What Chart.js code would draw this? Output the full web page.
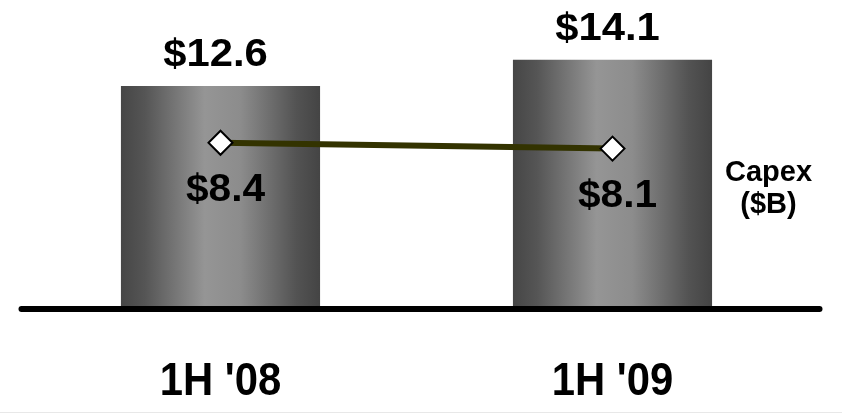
<!DOCTYPE html>
<html>
<head>
<meta charset="utf-8">
<script src="https://cdn.jsdelivr.net/npm/chart.js@4"></script>
<style>
html,body{margin:0;padding:0;background:#fff;}
#wrap{position:relative;width:842px;height:414px;overflow:hidden;}
#rule{position:absolute;left:0;top:412px;width:842px;height:1px;background:#e8e8e8;}
</style>
</head>
<body>
<div id="wrap">
<canvas id="c" width="842" height="414"></canvas>
<div id="rule"></div>
</div>
<script>
const categories = ["1H '08", "1H '09"];
const capexValues = [12.6, 14.1];
const lineValues = [8.4, 8.1];
const capexLabels = ["$12.6", "$14.1"];
const lineLabels = ["$8.4", "$8.1"];
const sideLabel = ["Capex", "($B)"];

const BAR_PCT = 0.508;
const FONT = '"Liberation Sans", Arial, sans-serif';

function barGradient(ctx) {
  const chart = ctx.chart;
  const xs = chart.scales.x;
  if (!xs || ctx.dataIndex === undefined) return '#777';
  const c = xs.getPixelForValue(ctx.dataIndex);
  const half = (xs.width / categories.length) * BAR_PCT / 2;
  if (!isFinite(c) || !isFinite(half) || half <= 0) return '#777';
  const g = chart.ctx.createLinearGradient(c - half, 0, c + half, 0);
  g.addColorStop(0, '#464646');
  g.addColorStop(0.12, '#555555');
  g.addColorStop(0.42, '#959595');
  g.addColorStop(0.6, '#8c8c8c');
  g.addColorStop(0.88, '#535353');
  g.addColorStop(1, '#444444');
  return g;
}

function drawStretched(ctx, text, x, y, font, sx) {
  ctx.save();
  ctx.font = font;
  ctx.textAlign = 'center';
  ctx.textBaseline = 'middle';
  ctx.fillStyle = '#000';
  ctx.translate(x, y);
  ctx.scale(sx, 1);
  ctx.fillText(text, 0, 0);
  ctx.restore();
}

const decor = {
  id: 'decor',
  afterDatasetsDraw(chart) {
    const ctx = chart.ctx;
    const ys = chart.scales.y;
    const xs = chart.scales.x;
    const area = chart.chartArea;
    const y0 = ys.getPixelForValue(0) + 2;
    ctx.save();
    ctx.strokeStyle = '#000';
    ctx.lineWidth = 6;
    ctx.lineCap = 'round';
    ctx.beginPath();
    ctx.moveTo(area.left - 3, y0);
    ctx.lineTo(area.right + 11, y0);
    ctx.stroke();
    ctx.restore();
    categories.forEach((lab, i) => {
      drawStretched(ctx, lab, xs.getPixelForTick(i), y0 + 73, 'bold 47px ' + FONT, 0.89);
    });
    const barMeta = chart.getDatasetMeta(0);
    barMeta.data.forEach((bar, i) => {
      drawStretched(ctx, capexLabels[i], bar.x - 5, bar.y - 30, 'bold 38px ' + FONT, 1.1);
    });
    const lineMeta = chart.getDatasetMeta(1);
    lineMeta.data.forEach((pt, i) => {
      drawStretched(ctx, lineLabels[i], pt.x + 5, pt.y + 48, 'bold 38px ' + FONT, 1.07);
    });
    const sx = area.right - 40;
    const sy = ys.getPixelForValue(6.8);
    ctx.save();
    ctx.font = 'bold 29px ' + FONT;
    ctx.textAlign = 'center';
    ctx.textBaseline = 'middle';
    ctx.fillStyle = '#000';
    ctx.fillText(sideLabel[0], sx, sy - 15);
    ctx.fillText(sideLabel[1], sx, sy + 17);
    ctx.restore();
  }
};

new Chart(document.getElementById('c'), {
  data: {
    labels: categories,
    datasets: [
      {
        type: 'bar',
        data: capexValues,
        yAxisID: 'y',
        backgroundColor: barGradient,
        borderWidth: 0,
        barPercentage: BAR_PCT,
        categoryPercentage: 1,
        order: 2
      },
      {
        type: 'line',
        data: lineValues,
        yAxisID: 'y2',
        borderColor: '#333300',
        borderWidth: 6,
        pointStyle: 'rectRot',
        pointRadius: 12,
        pointBackgroundColor: '#ffffff',
        pointBorderColor: '#000000',
        pointBorderWidth: 2,
        tension: 0,
        order: 1
      }
    ]
  },
  options: {
    responsive: false,
    animation: false,
    events: [],
    layout: { padding: { left: 24.5, right: 33.5, top: 0, bottom: 107 }, autoPadding: false },
    plugins: { legend: { display: false }, tooltip: { enabled: false } },
    scales: {
      x: {
        type: 'category',
        offset: true,
        grid: { display: false, drawTicks: false },
        border: { display: false },
        ticks: { display: false }
      },
      y: { display: false, min: 0, max: 17.5 },
      y2: { display: false, min: 0, max: 15.7, position: 'right' }
    }
  },
  plugins: [decor]
});
</script>
</body>
</html>
